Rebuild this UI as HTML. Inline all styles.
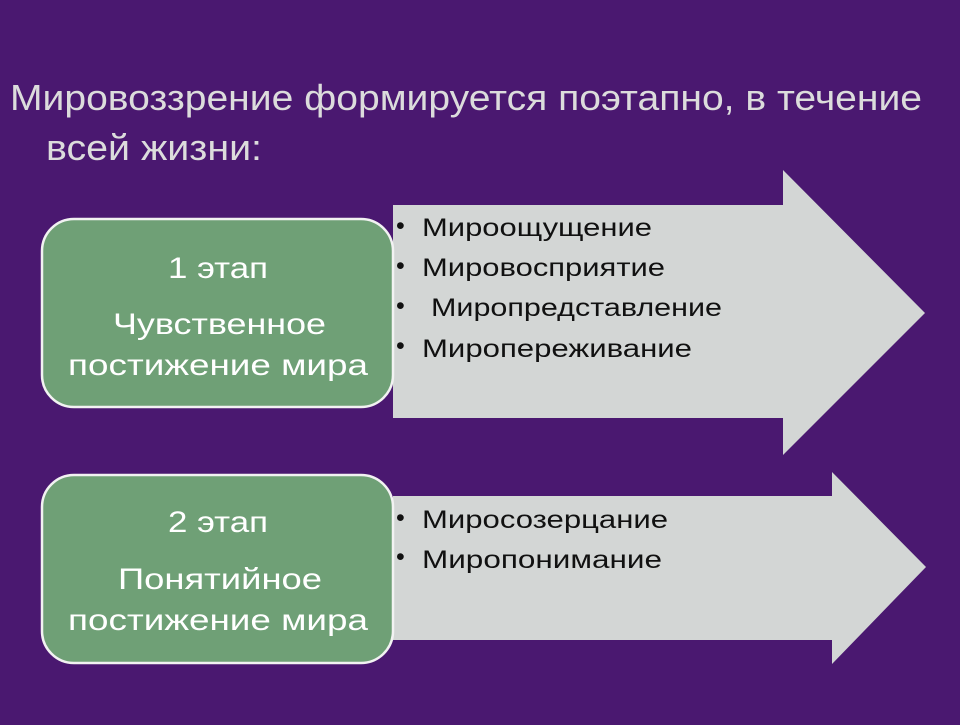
<!DOCTYPE html>
<html><head><meta charset="utf-8"><style>
body{margin:0;width:960px;height:720px;overflow:hidden;background:#4a1870;font-family:"Liberation Sans",sans-serif;}
</style></head><body>
<svg width="960" height="720" viewBox="0 0 960 720" xmlns="http://www.w3.org/2000/svg">
<rect width="960" height="720" fill="#4a1870"/>
<g fill="#dcdcdc" font-size="36" font-family="Liberation Sans, sans-serif" lengthAdjust="spacingAndGlyphs">
<text x="10" y="110" textLength="912" lengthAdjust="spacingAndGlyphs">Мировоззрение формируется поэтапно, в течение</text>
<text x="46" y="160" textLength="216" lengthAdjust="spacingAndGlyphs">всей жизни:</text>
</g>
<polygon points="393,205 783,205 783,170 925,313 783,455 783,418 393,418" fill="#d3d6d5"/>
<polygon points="393,496 832,496 832,472 926,567 832,664 832,640 393,640" fill="#d3d6d5"/>
<rect x="42" y="219" width="351" height="188" rx="32" fill="#6fa076" stroke="#f2f2f2" stroke-width="2.5"/>
<rect x="42" y="475" width="351" height="188" rx="32" fill="#6fa076" stroke="#f2f2f2" stroke-width="2.5"/>
<g fill="#fff" font-size="30" font-family="Liberation Sans, sans-serif">
<text x="168" y="278" textLength="100" lengthAdjust="spacingAndGlyphs">1 этап</text>
<text x="113" y="334" textLength="213" lengthAdjust="spacingAndGlyphs">Чувственное</text>
<text x="68" y="375" textLength="300" lengthAdjust="spacingAndGlyphs">постижение мира</text>
<text x="168" y="532" textLength="100" lengthAdjust="spacingAndGlyphs">2 этап</text>
<text x="118" y="589" textLength="204" lengthAdjust="spacingAndGlyphs">Понятийное</text>
<text x="68" y="630" textLength="300" lengthAdjust="spacingAndGlyphs">постижение мира</text>
</g>
<g fill="#111" font-size="25" font-family="Liberation Sans, sans-serif">
<text x="396" y="234">•</text><text x="422" y="236" textLength="230" lengthAdjust="spacingAndGlyphs">Мироощущение</text>
<text x="396" y="274">•</text><text x="422" y="276" textLength="243" lengthAdjust="spacingAndGlyphs">Мировосприятие</text>
<text x="396" y="314">•</text><text x="431" y="316" textLength="291" lengthAdjust="spacingAndGlyphs">Миропредставление</text>
<text x="396" y="354">•</text><text x="422" y="357" textLength="270" lengthAdjust="spacingAndGlyphs">Миропереживание</text>
<text x="396" y="526">•</text><text x="422" y="528" textLength="246" lengthAdjust="spacingAndGlyphs">Миросозерцание</text>
<text x="396" y="565">•</text><text x="422" y="568" textLength="240" lengthAdjust="spacingAndGlyphs">Миропонимание</text>
</g>
</svg>
</body></html>
